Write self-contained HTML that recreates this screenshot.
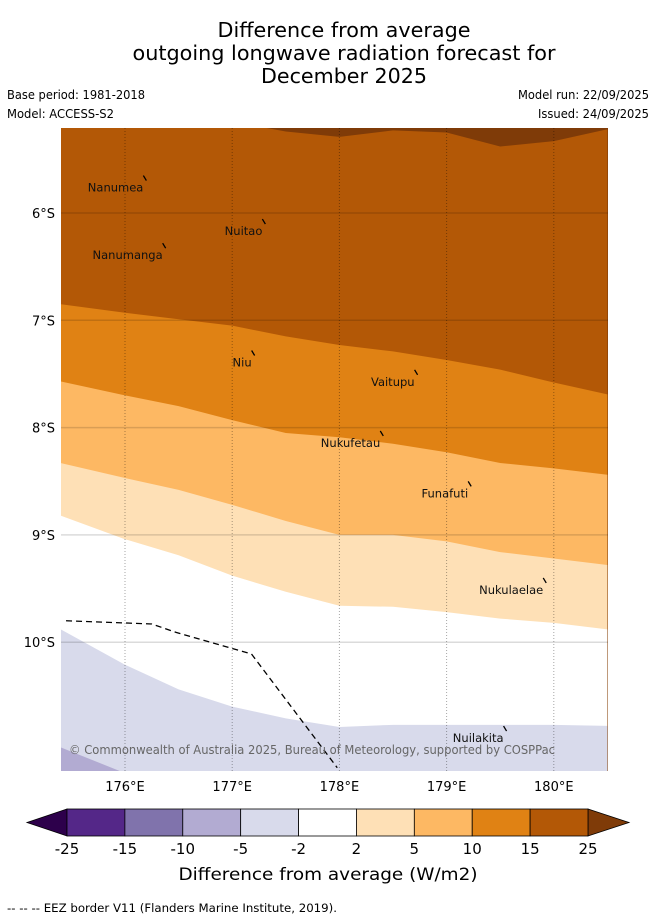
<!DOCTYPE html>
<html><head><meta charset="utf-8"><style>
html,body{margin:0;padding:0;background:#fff;}
svg{display:block;font-family:"DejaVu Sans","Liberation Sans",sans-serif;}
</style></head><body>
<svg id="chart" width="655" height="919" viewBox="0 0 655 919" xmlns="http://www.w3.org/2000/svg">
<g font-size="20" text-anchor="middle" fill="#000">
<text x="344" y="37" textLength="253" lengthAdjust="spacingAndGlyphs">Difference from average</text>
<text x="344" y="60" textLength="423" lengthAdjust="spacingAndGlyphs">outgoing longwave radiation forecast for</text>
<text x="344" y="83" textLength="166" lengthAdjust="spacingAndGlyphs">December 2025</text>
</g>
<g font-size="12" fill="#000">
<text x="7" y="99" textLength="138" lengthAdjust="spacingAndGlyphs">Base period: 1981-2018</text>
<text x="7" y="118" textLength="107" lengthAdjust="spacingAndGlyphs">Model: ACCESS-S2</text>
<text x="649" y="99" text-anchor="end" textLength="131" lengthAdjust="spacingAndGlyphs">Model run: 22/09/2025</text>
<text x="649" y="118" text-anchor="end" textLength="111" lengthAdjust="spacingAndGlyphs">Issued: 24/09/2025</text>
</g>
<defs><clipPath id="mapclip"><rect x="61" y="128" width="547" height="643"/></clipPath></defs>
<g id="map" clip-path="url(#mapclip)"></g>
<g id="axes"></g>
<g id="cbar"></g>
<text x="328" y="880" font-size="17" text-anchor="middle" textLength="299" lengthAdjust="spacingAndGlyphs">Difference from average (W/m2)</text>
<text x="7" y="912" font-size="11.5" textLength="330" lengthAdjust="spacingAndGlyphs">--  --  -- EEZ border V11 (Flanders Marine Institute, 2019).</text>
</svg>
<script>
// ---- data ----
const lonGrid = [175.4,176,176.5,177,177.5,178,178.5,179,179.5,180,180.5];
const levels = [25,15,10,5,2,-2,-5];
const bnd25 = [5.1,5.1,5.1,5.15,5.24,5.29,5.23,5.25,5.38,5.33,5.22];
const bnd15 = [6.85,6.93,6.99,7.05,7.15,7.23,7.29,7.37,7.46,7.58,7.69];
const bnd10 = [7.57,7.70,7.80,7.93,8.05,8.09,8.15,8.23,8.33,8.38,8.44];
const bnd5  = [8.33,8.47,8.58,8.72,8.87,9.0,9.0,9.06,9.16,9.22,9.28];
const bnd2  = [8.82,9.04,9.19,9.38,9.53,9.66,9.67,9.72,9.78,9.82,9.88];
const bndm2 = [9.88,10.21,10.44,10.60,10.71,10.79,10.77,10.77,10.77,10.77,10.78];
const bndm5 = [10.98,11.22,11.5,11.5,11.5,11.5,11.5,11.5,11.5,11.5,11.5];
const bandColors = ['#7f3b08','#b35806','#e08214','#fdb863','#fee0b6','#ffffff','#d8daeb','#b2abd2'];
const latTicks = [6,7,8,9,10];
const lonTicks = [176,177,178,179,180];
const eezLon = [175.45,176.25,176.48,177.18,177.98];
const eezLat = [9.80,9.83,9.91,10.11,11.17];
const islandNames = ['Nanumea','Nuitao','Nanumanga','Niu','Vaitupu','Nukufetau','Funafuti','Nukulaelae','Nuilakita'];
const islandLon = [176.19,177.3,176.37,177.2,178.72,178.4,179.22,179.92,179.55];
const islandLat = [5.67,6.075,6.30,7.30,7.48,8.05,8.52,9.42,10.80];
const cbLabels = ['-25','-15','-10','-5','-2','2','5','10','15','25'];
const cbColors = ['#542788','#8073ac','#b2abd2','#d8daeb','#ffffff','#fee0b6','#fdb863','#e08214','#b35806'];

// ---- axes functions ----
const X = lon => 125 + (lon - 176) * 107.2;
const Y = lat => 213 + (lat - 6) * 107.3;
const NS = 'http://www.w3.org/2000/svg';
function mk(tag, attrs, parent){const e=document.createElementNS(NS,tag);for(const k in attrs)e.setAttribute(k,attrs[k]);parent.appendChild(e);return e;}
const map = document.getElementById('map');
const axes = document.getElementById('axes');
const cbar = document.getElementById('cbar');

let bg = mk('rect',{x:61,y:128,width:547,height:643,fill:bandColors[0]},map);


const bnds = [bnd25,bnd15,bnd10,bnd5,bnd2,bndm2,bndm5];
bnds.forEach((b,i)=>{
  let d = 'M'+X(lonGrid[0])+','+Y(b[0]);
  for(let j=1;j<lonGrid.length;j++) d+=' L'+X(lonGrid[j])+','+Y(b[j]);
  d += ' L'+X(lonGrid[lonGrid.length-1])+',800 L'+X(lonGrid[0])+',800 Z';
  const p = mk('path',{d:d,fill:bandColors[i+1]},map);
  
  
});
latTicks.forEach(t=>{
  const l = mk('line',{x1:61,x2:608,y1:Y(t),y2:Y(t),stroke:'rgba(0,0,0,0.14)','stroke-width':1.5},map);
  
  
});
lonTicks.forEach(t=>{
  const l = mk('line',{x1:X(t),x2:X(t),y1:128,y2:771,stroke:'rgba(0,0,0,0.35)','stroke-width':1,'stroke-dasharray':'1,2'},map);
  
  
});
let ed='';
eezLon.forEach((v,i)=>{ed+=(i?' L':'M')+X(v)+','+Y(eezLat[i]);});
const eez = mk('path',{d:ed,fill:'none',stroke:'#000','stroke-width':1.3,'stroke-dasharray':'6,4'},map);


islandNames.forEach((n,i)=>{
  const t = mk('text',{x:X(islandLon[i])-2,y:Y(islandLat[i])+14,'font-size':11.5,'text-anchor':'end',fill:'#111'},map);
  t.textContent=n;
  
  
  const m = mk('line',{x1:X(islandLon[i])-2,y1:Y(islandLat[i])-2,x2:X(islandLon[i])+1,y2:Y(islandLat[i])+3,stroke:'#000','stroke-width':1.3},map);
  
  
});
const cp = mk('text',{x:69,y:754,'font-size':12,fill:'#666',textLength:486,lengthAdjust:'spacingAndGlyphs'},map);
cp.textContent='© Commonwealth of Australia 2025, Bureau of Meteorology, supported by COSPPac';


latTicks.forEach(t=>{
  const tx = mk('text',{x:55,y:Y(t)+5,'font-size':13,'text-anchor':'end'},axes);
  tx.textContent=t+'°S';
  
  
});
lonTicks.forEach(t=>{
  const tx = mk('text',{x:X(t),y:791,'font-size':13,'text-anchor':'middle'},axes);
  tx.textContent=t+'°E';
  
  
});
const cx0=67, cw=(588-67)/cbColors.length, cy=809, ch=27;
const lt = mk('polygon',{points:`${cx0},${cy} 27,${cy+ch/2} ${cx0},${cy+ch}`,fill:'#2d004b',stroke:'#000','stroke-width':0.8},cbar);


const rt = mk('polygon',{points:`588,${cy} 629,${cy+ch/2} 588,${cy+ch}`,fill:'#7f3b08',stroke:'#000','stroke-width':0.8},cbar);


cbColors.forEach((c,i)=>{
  const r = mk('rect',{x:cx0+i*cw,y:cy,width:cw,height:ch,fill:c,stroke:'#000','stroke-width':0.8},cbar);
  
  
});
cbLabels.forEach((s,i)=>{
  const tx = mk('text',{x:cx0+i*cw,y:854,'font-size':15,'text-anchor':'middle'},cbar);
  tx.textContent=s;
  
  
});
</script>
</body></html>
